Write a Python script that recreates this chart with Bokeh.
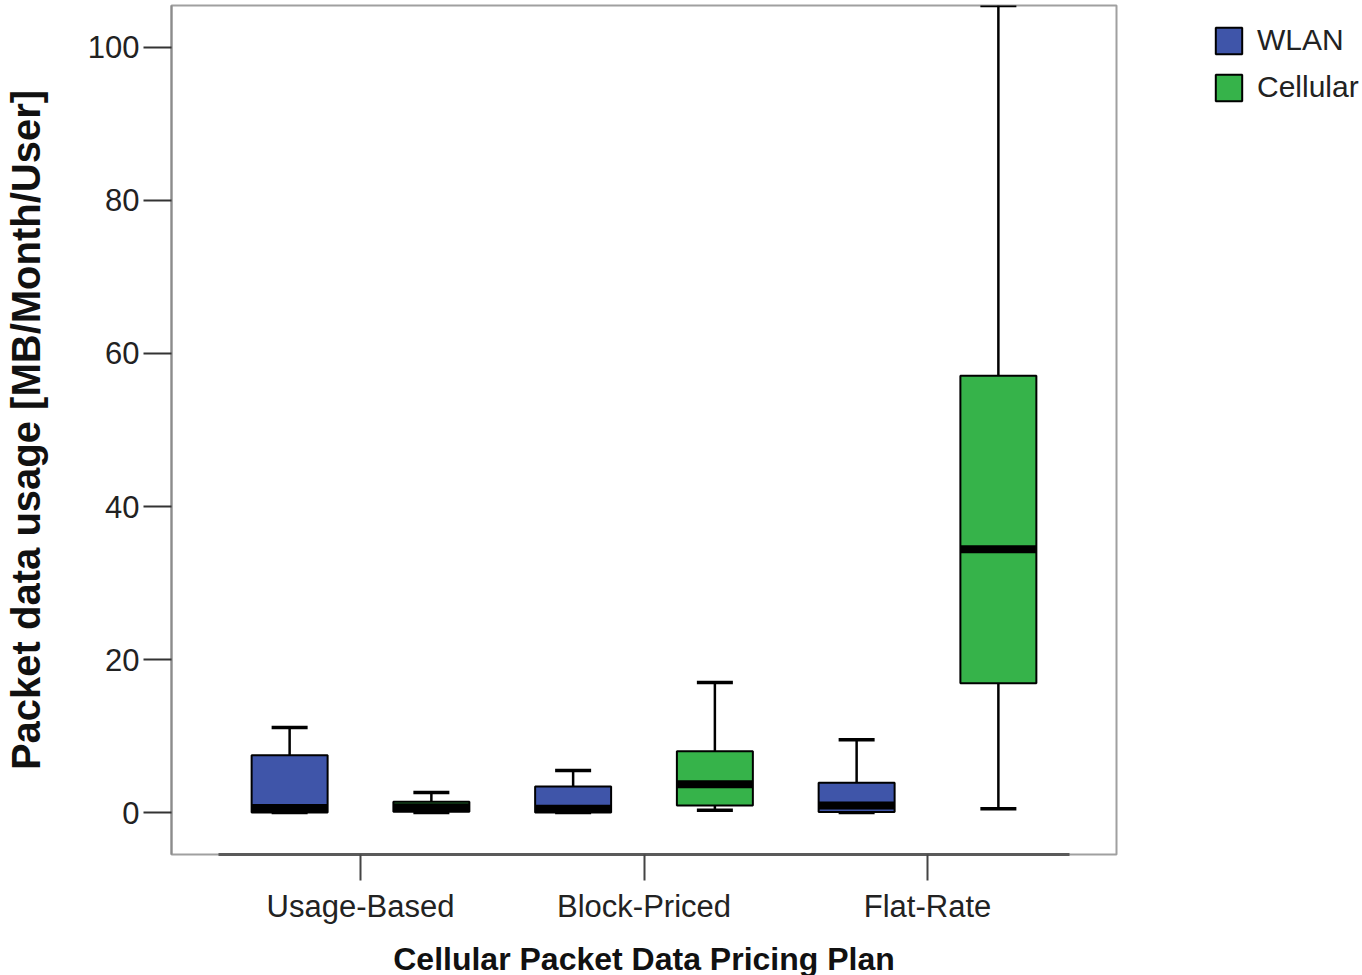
from bokeh.plotting import figure
from bokeh.models import ColumnDataSource, FixedTicker, Range1d, Legend, LegendItem
from bokeh.embed import file_html
from bokeh.resources import INLINE

# ---- data ----
plans = ["Usage-Based", "Block-Priced", "Flat-Rate"]
series = ["WLAN", "Cellular"]

wlan_min = [0.0, 0.0, 0.0]
wlan_q1 = [0.0, 0.0, 0.05]
wlan_med = [0.6, 0.5, 0.9]
wlan_q3 = [7.5, 3.4, 3.9]
wlan_max = [11.1, 5.5, 9.5]

cell_min = [0.0, 0.3, 0.5]
cell_q1 = [0.1, 0.9, 16.9]
cell_med = [0.7, 3.7, 34.4]
cell_q3 = [1.4, 8.0, 57.1]
cell_max = [2.6, 17.0, 105.5]

y_ticks = [0, 20, 40, 60, 80, 100]

# ---- style ----
FONT = "Liberation Sans"
COLORS = {"WLAN": "#3F55A9", "Cellular": "#36B34A"}
OFFSETS = {"WLAN": -0.25, "Cellular": 0.25}
BOX_W = 0.268
CAP_W = 0.127

p = figure(
    output_backend="svg", toolbar_location=None,
    frame_width=945, frame_height=849,
    min_border_left=163, min_border_right=246,
    min_border_top=5, min_border_bottom=113,
    x_range=Range1d(1 / 3, 3 + 2 / 3), y_range=Range1d(-5.49, 105.49),
)
p.grid.visible = False
p.background_fill_color = "white"
p.border_fill_color = "white"
p.outline_line_color = "#a0a0a0"
p.outline_line_width = 2

renderers = {}
for name, mn, q1, md, q3, mx in [
    ("WLAN", wlan_min, wlan_q1, wlan_med, wlan_q3, wlan_max),
    ("Cellular", cell_min, cell_q1, cell_med, cell_q3, cell_max),
]:
    xs = [i + 1 + OFFSETS[name] for i in range(len(plans))]
    src = ColumnDataSource(dict(
        x=xs, mn=mn, q1=q1, md=md, q3=q3, mx=mx,
        bl=[x - BOX_W / 2 for x in xs], br=[x + BOX_W / 2 for x in xs],
        cl=[x - CAP_W / 2 for x in xs], cr=[x + CAP_W / 2 for x in xs],
    ))
    # whiskers
    p.segment(x0="x", x1="x", y0="q3", y1="mx", source=src, line_color="black", line_width=2.5)
    p.segment(x0="x", x1="x", y0="q1", y1="mn", source=src, line_color="black", line_width=2.5)
    p.segment(x0="cl", x1="cr", y0="mx", y1="mx", source=src, line_color="black", line_width=3.5)
    p.segment(x0="cl", x1="cr", y0="mn", y1="mn", source=src, line_color="black", line_width=3.5)
    # box
    r = p.vbar(x="x", width=BOX_W, bottom="q1", top="q3", source=src,
               fill_color=COLORS[name], line_color="black", line_width=2)
    renderers[name] = r
    # median
    p.segment(x0="bl", x1="br", y0="md", y1="md", source=src, line_color="black", line_width=8)

# x axis
p.xaxis.ticker = FixedTicker(ticks=[1, 2, 3])
p.xaxis.major_label_overrides = {i + 1: n for i, n in enumerate(plans)}
p.xaxis.bounds = (0.5, 3.5)
p.xaxis.axis_line_color = "#5a5a5a"
p.xaxis.axis_line_width = 3
p.xaxis.major_tick_line_color = "#444444"
p.xaxis.major_tick_line_width = 2
p.xaxis.major_tick_out = 26
p.xaxis.major_tick_in = 0
p.xaxis.minor_tick_line_color = None
p.xaxis.major_label_standoff = 8
p.xaxis.major_label_text_font = FONT
p.xaxis.major_label_text_font_size = "31px"
p.xaxis.major_label_text_color = "#222222"
p.xaxis.axis_label = "Cellular Packet Data Pricing Plan"
p.xaxis.axis_label_text_font = FONT
p.xaxis.axis_label_text_font_style = "bold"
p.xaxis.axis_label_text_font_size = "32px"
p.xaxis.axis_label_text_color = "#111111"
p.xaxis.axis_label_standoff = 14

# y axis
p.yaxis.ticker = FixedTicker(ticks=y_ticks)
p.yaxis.axis_line_color = "#8c8c8c"
p.yaxis.axis_line_width = 2
p.yaxis.major_tick_line_color = "#333333"
p.yaxis.major_tick_line_width = 2
p.yaxis.major_tick_out = 28
p.yaxis.major_tick_in = 0
p.yaxis.minor_tick_line_color = None
p.yaxis.major_label_standoff = 4
p.yaxis.major_label_text_font = FONT
p.yaxis.major_label_text_font_size = "31px"
p.yaxis.major_label_text_color = "#222222"
p.yaxis.axis_label = "Packet data usage [MB/Month/User]"
p.yaxis.axis_label_text_font = FONT
p.yaxis.axis_label_text_font_style = "bold"
p.yaxis.axis_label_text_font_size = "40px"
p.yaxis.axis_label_text_color = "#111111"
p.yaxis.axis_label_standoff = 37

legend = Legend(
    items=[LegendItem(label=s, renderers=[renderers[s]]) for s in series],
    location=(96, 750),
    glyph_width=33, glyph_height=33, label_height=33,
    spacing=13, padding=0, margin=0, label_standoff=12,
    label_text_font=FONT, label_text_font_size="30px", label_text_color="#222222",
    border_line_color=None, background_fill_alpha=0,
)
p.add_layout(legend, "right")

open("out.html", "w").write(file_html(p, INLINE))
